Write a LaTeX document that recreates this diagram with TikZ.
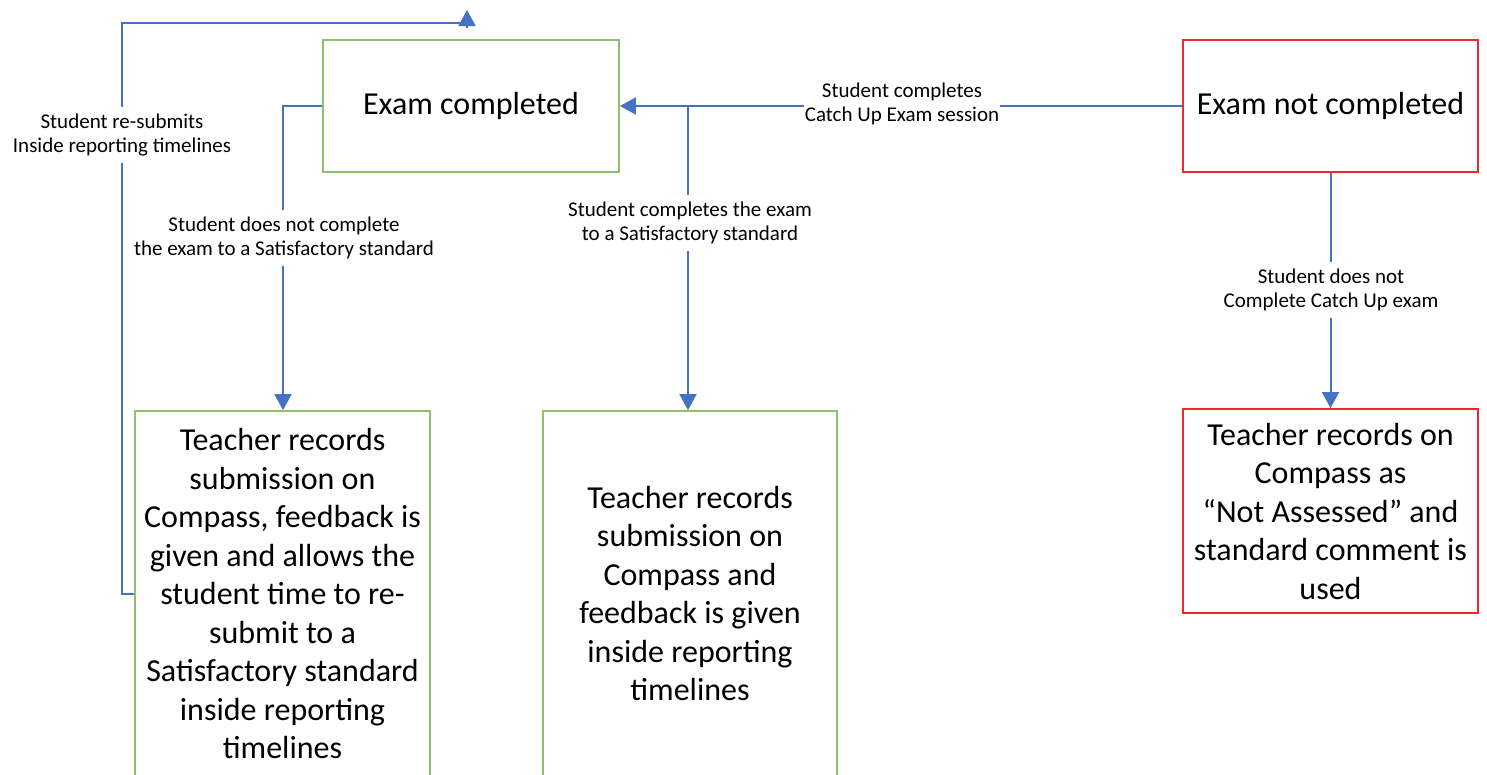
\documentclass[tikz,border=0pt]{standalone}
\usepackage{fontspec}
\setmainfont{Carlito}
\usetikzlibrary{arrows.meta}

\definecolor{flowblue}{HTML}{4472C4}
\definecolor{okgreen}{HTML}{8DC16B}
\definecolor{badred}{HTML}{F0262C}

\tikzset{
  box/.style={draw, line width=1.8pt, align=center, inner sep=4pt,
              font=\fontsize{32}{38.5}\selectfont},
  goodbox/.style={box, draw=okgreen},
  badbox/.style={box, draw=badred},
  flow/.style={draw=flowblue, line width=2pt,
               -{Triangle[length=16pt,width=17pt]}},
  flowplain/.style={draw=flowblue, line width=2pt},
  lbl/.style={fill=white, align=center, inner xsep=1pt, inner ysep=7pt,
              font=\fontsize{21}{24.5}\selectfont}
}

\begin{document}
\begin{tikzpicture}[x=1pt, y=-1pt]
  \useasboundingbox (0,0) rectangle (1487,774);
  \clip (0,0) rectangle (1487,774);

  % boxes
  \node[goodbox, minimum width=296pt, minimum height=132pt] (done) at (471,106) {Exam completed};
  \node[badbox, minimum width=295pt, minimum height=132pt] (notdone) at (1330.5,106) {Exam not completed};
  \node[goodbox, minimum width=295pt, minimum height=365pt] (resubmit) at (282.5,593.5)
    {Teacher records\\submission on\\Compass, feedback is\\given and allows the\\student time to re-\\submit to a\\Satisfactory standard\\inside reporting\\timelines};
  \node[goodbox, minimum width=294pt, minimum height=365pt] (record) at (690,593.5)
    {Teacher records\\submission on\\Compass and\\feedback is given\\inside reporting\\timelines};
  \node[badbox, minimum width=295pt, minimum height=204pt] (notassessed) at (1330.5,511)
    {Teacher records on\\Compass as\\“Not Assessed” and\\standard comment is\\used};

  % connector helper points
  \coordinate (split) at (688,106);
  \coordinate (leftbend) at (283,106);
  \coordinate (loopbottom) at (122,593.5);
  \coordinate (looptop) at (122,23);
  \coordinate (loopend) at (467,23);
  \coordinate (loopbase) at (467,28);
  \coordinate (looptip) at (467,10);

  % connectors
  \draw[flow] (notdone.west) -- (done.east);
  \draw[flow] (split) -- (split |- record.north);
  \draw[flow] (done.west) -- (leftbend) -- (leftbend |- resubmit.north);
  \draw[flow] (notdone.south) -- (notassessed.north);
  \draw[flowplain] (resubmit.west |- loopbottom) -- (loopbottom) -- (looptop) -- (loopend);
  \draw[flow] (loopbase) -- (looptip);

  % connector labels
  \node[lbl] (lblcatch) at (902,104) {Student completes\\Catch Up Exam session};
  \node[lbl] (lblsat) at (690,223) {Student completes the exam\\to a Satisfactory standard};
  \node[lbl] (lblunsat) at (284,238) {Student does not complete\\the exam to a Satisfactory standard};
  \node[lbl] (lblresub) at (122,135) {Student re-submits\\Inside reporting timelines};
  \node[lbl] (lblnocatch) at (1331,290) {Student does not\\Complete Catch Up exam};
\end{tikzpicture}
\end{document}
